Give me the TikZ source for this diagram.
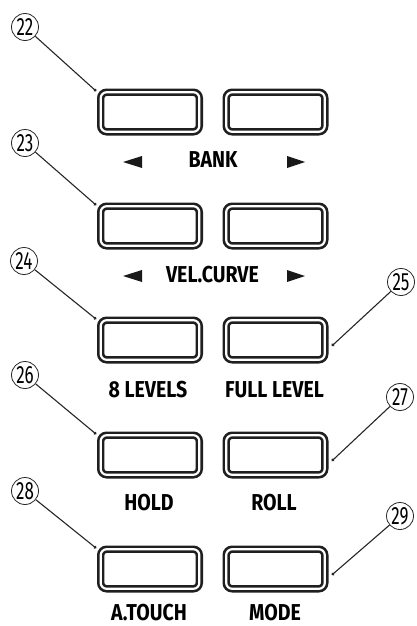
\documentclass[tikz,border=0pt]{standalone}
\usepackage{fontspec}
\setmainfont{Fira Sans}
\newfontfamily\numfont[FakeStretch=0.68]{Fira Sans}
\newfontfamily\capfont[FakeStretch=0.85]{Fira Sans}
\usetikzlibrary{arrows.meta}

\begin{document}
\begin{tikzpicture}[x=1pt, y=-1pt, >=latex,
  pad/.style={draw=black!88, line width=2.6pt, double=white, double distance=2.2pt,
    rounded corners=6pt, minimum width=98.6pt, minimum height=39.6pt, inner sep=0pt, outer sep=0pt},
  callout/.style={draw=black!85, line width=0.8pt, circle, minimum size=27pt, inner sep=0pt,
    font=\numfont\fontsize{25}{25}\selectfont},
  leader/.style={draw=black!85, line width=1.1pt, -{Circle[length=3pt]}},
  caption/.style={inner sep=0pt, font=\capfont\bfseries\fontsize{23}{23}\selectfont}]
  \useasboundingbox (0,0) rectangle (416,626);

  % buttons
  \node [pad] (p22) at (150,112) {};
  \node [pad] (bankr) at (275.5,112) {};
  \node [pad] (p23) at (150,226) {};
  \node [pad] (velr) at (275.5,226) {};
  \node [pad] (p24) at (150,340) {};
  \node [pad] (p25) at (275.5,340) {};
  \node [pad] (p26) at (150,455) {};
  \node [pad] (p27) at (275.5,455) {};
  \node [pad] (p28) at (150,569) {};
  \node [pad] (p29) at (275.5,569) {};

  % labels
  \node [caption] (lbank) at (213,160) {BANK};
  \node [caption] (lvel) at (212.5,275) {VEL.CURVE};
  \node [caption] (l24) at (148,390) {8 LEVELS};
  \node [caption] (l25) at (274.5,390) {FULL LEVEL};
  \node [caption] (l26) at (149,503) {HOLD};
  \node [caption] (l27) at (274,503) {ROLL};
  \node [caption] (l28) at (149,613) {A.TOUCH};
  \node [caption] (l29) at (275,613) {MODE};
  \fill [black!90] (123,162) -- (142,156) -- (142,168) -- cycle;
  \fill [black!90] (305,162) -- (287,156) -- (287,168) -- cycle;
  \fill [black!90] (123,276) -- (142,270) -- (142,282) -- cycle;
  \fill [black!90] (305,276) -- (287,270) -- (287,282) -- cycle;

  % numbers
  \node [callout] (n22) at (25,27) {22};
  \node [callout] (n23) at (25,143) {23};
  \node [callout] (n24) at (24,261) {24};
  \node [callout] (n25) at (401,282) {25};
  \node [callout] (n26) at (25,375) {26};
  \node [callout] (n27) at (400,397) {27};
  \node [callout] (n28) at (25,491) {28};
  \node [callout] (n29) at (400,516) {29};

  % leader lines
  \foreach \n in {22,23,24,26,28}
    \coordinate (d\n) at ([xshift=-4.5pt, yshift=1pt]p\n.north west);
  \foreach \n in {25,27,29}
    \coordinate (d\n) at ([xshift=7pt, yshift=-6pt]p\n.east);
  \foreach \n in {22,23,24,25,26,27,28,29}
    \draw [leader] (n\n) -- (d\n);
\end{tikzpicture}
\end{document}
